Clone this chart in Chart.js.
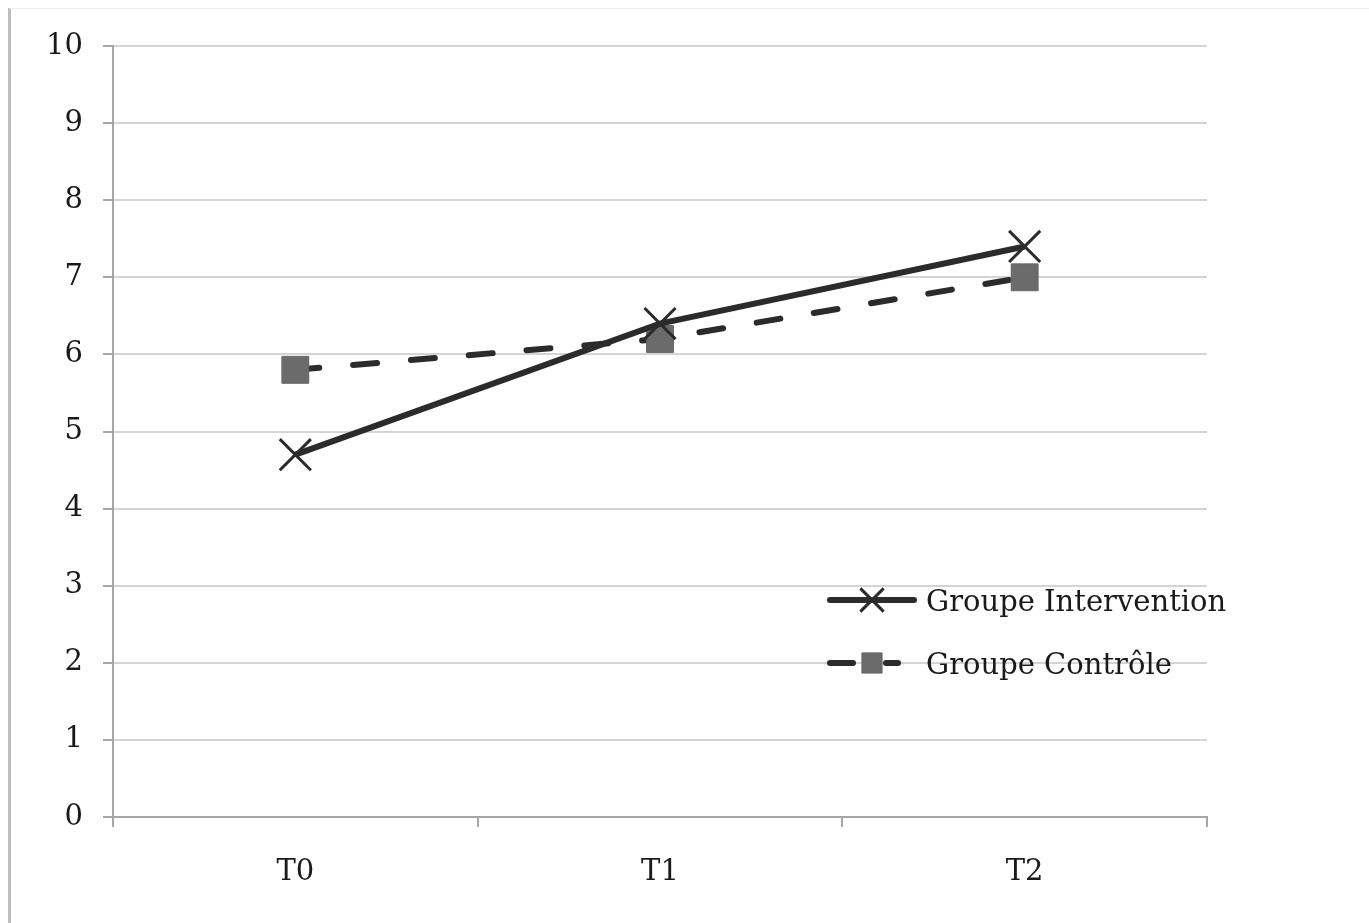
<!DOCTYPE html>
<html>
<head>
<meta charset="utf-8">
<script src="https://cdn.jsdelivr.net/npm/chart.js@4.4.0/dist/chart.umd.min.js"></script>
<style>
  body { margin: 0; background: #fff; }
  #wrap { position: relative; width: 1369px; height: 923px; }
  #frame { position: absolute; left: 8px; top: 8px; right: 0; bottom: 0;
           border-left: 3px solid #bdbdbd; border-top: 1px solid #eeeeee; pointer-events: none; }
  canvas { position: absolute; left: 0; top: 0; }
</style>
</head>
<body>
<div id="wrap">
  <canvas id="myChart" width="1369" height="923"></canvas>
  <div id="frame"></div>
</div>
<script>
// data
var categories = ['T0', 'T1', 'T2'];
var intervention = [4.7, 6.4, 7.4];
var controle = [5.8, 6.2, 7.0];
var yTicks = [0, 1, 2, 3, 4, 5, 6, 7, 8, 9, 10];

var fontFam = '"DejaVu Serif", serif';
var fontSize = 29;

// legend drawn inside the plot, like the original
var innerLegend = {
    id: 'innerLegend',
    afterDatasetsDraw: function (chart) {
        var ctx = chart.ctx;
        var x0 = 830, x1 = 914, mid = 872;
        var rows = [600, 663];
        chart.data.datasets.forEach(function (ds, i) {
            var y = rows[i];
            ctx.save();
            ctx.strokeStyle = ds.borderColor;
            ctx.lineWidth = ds.borderWidth;
            ctx.lineCap = 'round';
            if (ds.borderDash) {
                ctx.beginPath(); ctx.moveTo(x0, y); ctx.lineTo(853, y); ctx.stroke();
                ctx.beginPath(); ctx.moveTo(886, y); ctx.lineTo(898, y); ctx.stroke();
            } else {
                ctx.beginPath(); ctx.moveTo(x0, y); ctx.lineTo(x1, y); ctx.stroke();
            }
            ctx.restore();
            ctx.save();
            ctx.fillStyle = ds.pointBackgroundColor;
            ctx.strokeStyle = ds.pointBorderColor;
            ctx.lineWidth = ds.pointBorderWidth;
            Chart.helpers.drawPoint(ctx, {
                pointStyle: ds.pointStyle, radius: ds.pointRadius * 0.75,
                borderWidth: ds.pointBorderWidth, rotation: 0
            }, mid, y);
            ctx.restore();
            ctx.save();
            ctx.fillStyle = '#1a1a1a';
            ctx.font = fontSize + 'px ' + fontFam;
            ctx.textBaseline = 'middle';
            ctx.fillText(ds.label, 926, y + 3);
            ctx.restore();
        });
    }
};

var ctx = document.getElementById('myChart').getContext('2d');
var chart = new Chart(ctx, {
    type: 'line',
    data: {
        labels: categories,
        datasets: [
            {
                label: 'Groupe Intervention',
                data: intervention,
                borderColor: '#2b2b2b',
                borderWidth: 6,
                pointStyle: 'crossRot',
                pointRadius: 22,
                pointBorderWidth: 3,
                pointBorderColor: '#2b2b2b',
                pointBackgroundColor: '#2b2b2b',
                tension: 0,
                fill: false
            },
            {
                label: 'Groupe Contrôle',
                data: controle,
                borderColor: '#2b2b2b',
                borderWidth: 6,
                borderDash: [24, 34],
                borderCapStyle: 'round',
                pointStyle: 'rect',
                pointRadius: 19,
                pointBorderWidth: 1,
                pointBorderColor: '#666666',
                pointBackgroundColor: '#6b6b6b',
                tension: 0,
                fill: false
            }
        ]
    },
    options: {
        responsive: false,
        animation: false,
        layout: { padding: { left: 0, right: 162, top: 46, bottom: 0 } },
        plugins: { legend: { display: false }, tooltip: { enabled: false } },
        scales: {
            x: {
                offset: true,
                grid: { offset: true, drawOnChartArea: false, color: '#a6a6a6', lineWidth: 2, tickLength: 10 },
                border: { color: '#a6a6a6', width: 2 },
                ticks: { color: '#1a1a1a', font: { family: fontFam, size: fontSize }, padding: 28 },
                afterFit: function (s) { s.height = 106; }
            },
            y: {
                min: 0, max: 10,
                afterBuildTicks: function (s) { s.ticks = yTicks.map(function (v) { return { value: v }; }); },
                grid: { color: '#d4d4d4', lineWidth: 2, tickLength: 10, tickColor: '#a6a6a6' },
                border: { color: '#a6a6a6', width: 2 },
                ticks: { color: '#1a1a1a', font: { family: fontFam, size: fontSize }, padding: 20 },
                afterFit: function (s) { s.width = 113; }
            }
        }
    },
    plugins: [innerLegend]
});
</script>
</body>
</html>
